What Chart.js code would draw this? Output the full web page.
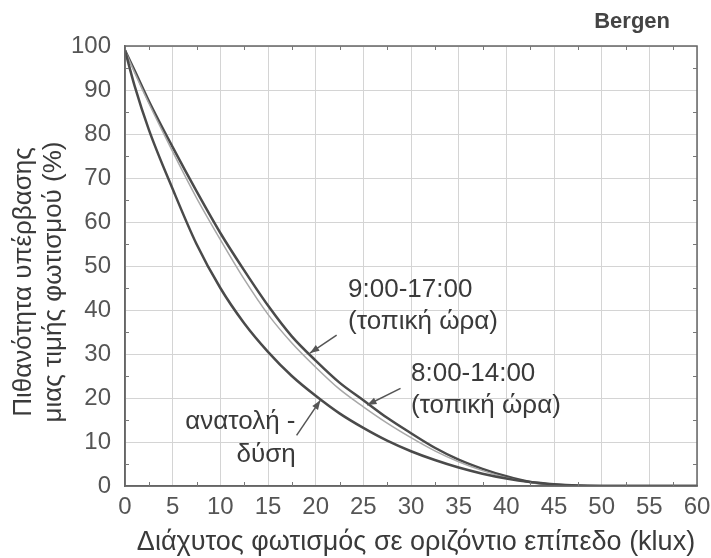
<!DOCTYPE html>
<html>
<head>
<meta charset="utf-8">
<script src="https://cdn.jsdelivr.net/npm/chart.js@4"></script>
<style>
  html, body { margin: 0; padding: 0; background: #fff; }
  #wrap { width: 711px; height: 558px; }
</style>
</head>
<body>
<div id="wrap"><canvas id="chart" width="711" height="558"></canvas></div>
<script>
// illuminance (klux) at which the exceedance values were read
const klux = [0, 1, 2.5, 5, 7.5, 10, 12.5, 15, 17.5, 20, 22.5, 25, 27.5, 30, 32.5, 35, 37.5, 40, 42.5, 45, 47.5, 50, 55, 60]

// probability of exceedance (%)
const sunriseSunset = [99, 91, 81, 67.5, 55, 45, 37, 30.5, 25, 20.5, 16.5, 13.2, 10.3, 7.9, 5.9, 4.2, 2.8, 1.7, 0.9, 0.4, 0.1, 0, 0, 0]
const h8to14 = [99, 94, 87, 76, 65.5, 56, 47, 39, 32.5, 27, 22, 18, 14.3, 11, 8.0, 5.5, 3.5, 1.9, 0.8, 0.3, 0.05, 0, 0, 0]
const h9to17 = [99, 94.5, 87.5, 77, 67, 57.5, 49, 41, 34, 28.5, 23.5, 19.5, 15.5, 12, 8.7, 6.0, 3.9, 2.2, 0.9, 0.3, 0.05, 0, 0, 0]

const xTicks = [0, 5, 10, 15, 20, 25, 30, 35, 40, 45, 50, 55, 60]
const yTicks = [0, 10, 20, 30, 40, 50, 60, 70, 80, 90, 100]

const xTitle = 'Διάχυτος φωτισμός σε οριζόντιο επίπεδο (klux)'
const yTitle = ['Πιθανότητα υπέρβασης', 'μιας τιμής φωτισμού (%)']
const cornerTitle = 'Bergen'

// curve labels, placed in data units: [text, x, y, align]
const labels = [
    ['9:00-17:00', 23.4, 44.5, 'left'],
    ['(τοπική ώρα)', 23.4, 37.4, 'left'],
    ['8:00-14:00', 30.0, 25.5, 'left'],
    ['(τοπική ώρα)', 30.0, 18.2, 'left'],
    ['ανατολή -', 12.1, 14.5, 'center'],
    ['δύση', 14.8, 7.0, 'center']
]
// arrows from label to curve: [x0, y0, x1, y1]
const arrows = [
    [22.2, 34.3, 19.4, 30.2],
    [28.9, 22.2, 25.4, 18.4],
    [18.0, 11.5, 20.5, 19.5]
]

const FONT = '"Liberation Sans", Arial, sans-serif'
const TEXT = '#3a3a3a'

const toPoints = (ys) => klux.map((x, i) => ({x: x, y: ys[i]}))

const extras = {
    id: 'extras',
    afterDatasetsDraw(chart) {
        const ctx = chart.ctx
        const xs = chart.scales.x
        const ys = chart.scales.y
        const area = chart.chartArea

        ctx.save()
        // frame round the plot
        ctx.strokeStyle = '#666'
        ctx.lineWidth = 1.5
        ctx.strokeRect(area.left, area.top, area.right - area.left, area.bottom - area.top)

        // small minor ticks along the frame
        ctx.strokeStyle = '#777'
        ctx.lineWidth = 1
        for (let v = 2.5; v < 60; v += 5) {
            const px = Math.round(xs.getPixelForValue(v)) + 0.5
            ctx.beginPath(); ctx.moveTo(px, area.bottom); ctx.lineTo(px, area.bottom - 4); ctx.stroke()
            ctx.beginPath(); ctx.moveTo(px, area.top); ctx.lineTo(px, area.top + 4); ctx.stroke()
        }
        for (let v = 5; v < 100; v += 10) {
            const py = Math.round(ys.getPixelForValue(v)) + 0.5
            ctx.beginPath(); ctx.moveTo(area.left, py); ctx.lineTo(area.left + 4, py); ctx.stroke()
            ctx.beginPath(); ctx.moveTo(area.right, py); ctx.lineTo(area.right - 4, py); ctx.stroke()
        }

        // labels
        ctx.fillStyle = TEXT
        ctx.font = '26px ' + FONT
        ctx.textBaseline = 'middle'
        labels.forEach(([t, x, y, align]) => {
            ctx.textAlign = align
            ctx.fillText(t, xs.getPixelForValue(x), ys.getPixelForValue(y))
        })

        // arrows
        ctx.strokeStyle = '#555'
        ctx.fillStyle = '#555'
        ctx.lineWidth = 1.5
        arrows.forEach(([x0, y0, x1, y1]) => {
            const ax = xs.getPixelForValue(x0), ay = ys.getPixelForValue(y0)
            const bx = xs.getPixelForValue(x1), by = ys.getPixelForValue(y1)
            const ang = Math.atan2(by - ay, bx - ax)
            ctx.beginPath(); ctx.moveTo(ax, ay); ctx.lineTo(bx, by); ctx.stroke()
            ctx.beginPath()
            ctx.moveTo(bx, by)
            ctx.lineTo(bx - 10 * Math.cos(ang - 0.35), by - 10 * Math.sin(ang - 0.35))
            ctx.lineTo(bx - 10 * Math.cos(ang + 0.35), by - 10 * Math.sin(ang + 0.35))
            ctx.closePath(); ctx.fill()
        })

        // corner title
        ctx.fillStyle = '#444'
        ctx.font = 'bold 22px ' + FONT
        ctx.textAlign = 'right'
        ctx.fillText(cornerTitle, area.right - 27, 22)

        // axis titles
        ctx.fillStyle = TEXT
        ctx.font = '27px ' + FONT
        ctx.textAlign = 'center'
        ctx.fillText(xTitle, 416, 543)

        ctx.translate(0, 282)
        ctx.rotate(-Math.PI / 2)
        ctx.font = '26px ' + FONT
        ctx.fillText(yTitle[0], 0, 24)
        ctx.fillText(yTitle[1], 0, 54)
        ctx.restore()
    }
}

const line = (label, data, color, width) => ({
    label: label,
    data: toPoints(data),
    borderColor: color,
    borderWidth: width,
    pointRadius: 0,
    fill: false,
    cubicInterpolationMode: 'monotone'
})

new Chart(document.getElementById('chart').getContext('2d'), {
    type: 'line',
    data: {
        datasets: [
            line('ανατολή - δύση', sunriseSunset, '#4a4a4a', 2.5),
            line('8:00-14:00', h8to14, '#a8a8a8', 1.5),
            line('9:00-17:00', h9to17, '#4a4a4a', 2.5)
        ]
    },
    options: {
        responsive: false,
        animation: false,
        layout: {padding: {top: 46, right: 14, left: 0, bottom: 0}},
        plugins: {legend: {display: false}, tooltip: {enabled: false}},
        scales: {
            x: {
                type: 'linear', min: 0, max: 60,
                afterBuildTicks: (s) => { s.ticks = xTicks.map(v => ({value: v})) },
                afterFit: (s) => { s.height = 72; s.paddingLeft = 0; s.paddingRight = 0 },
                grid: {color: '#d4d4d4', lineWidth: 1, drawTicks: false},
                border: {color: '#666', width: 1.5},
                ticks: {color: '#555', font: {family: FONT, size: 24}, padding: 7, maxRotation: 0}
            },
            y: {
                min: 0, max: 100,
                afterBuildTicks: (s) => { s.ticks = yTicks.map(v => ({value: v})) },
                afterFit: (s) => { s.width = 125; s.paddingTop = 0; s.paddingBottom = 0 },
                grid: {color: '#d4d4d4', lineWidth: 1, drawTicks: false},
                border: {color: '#666', width: 1.5},
                ticks: {color: '#555', font: {family: FONT, size: 24}, padding: 14}
            }
        }
    },
    plugins: [extras]
})
</script>
</body>
</html>
